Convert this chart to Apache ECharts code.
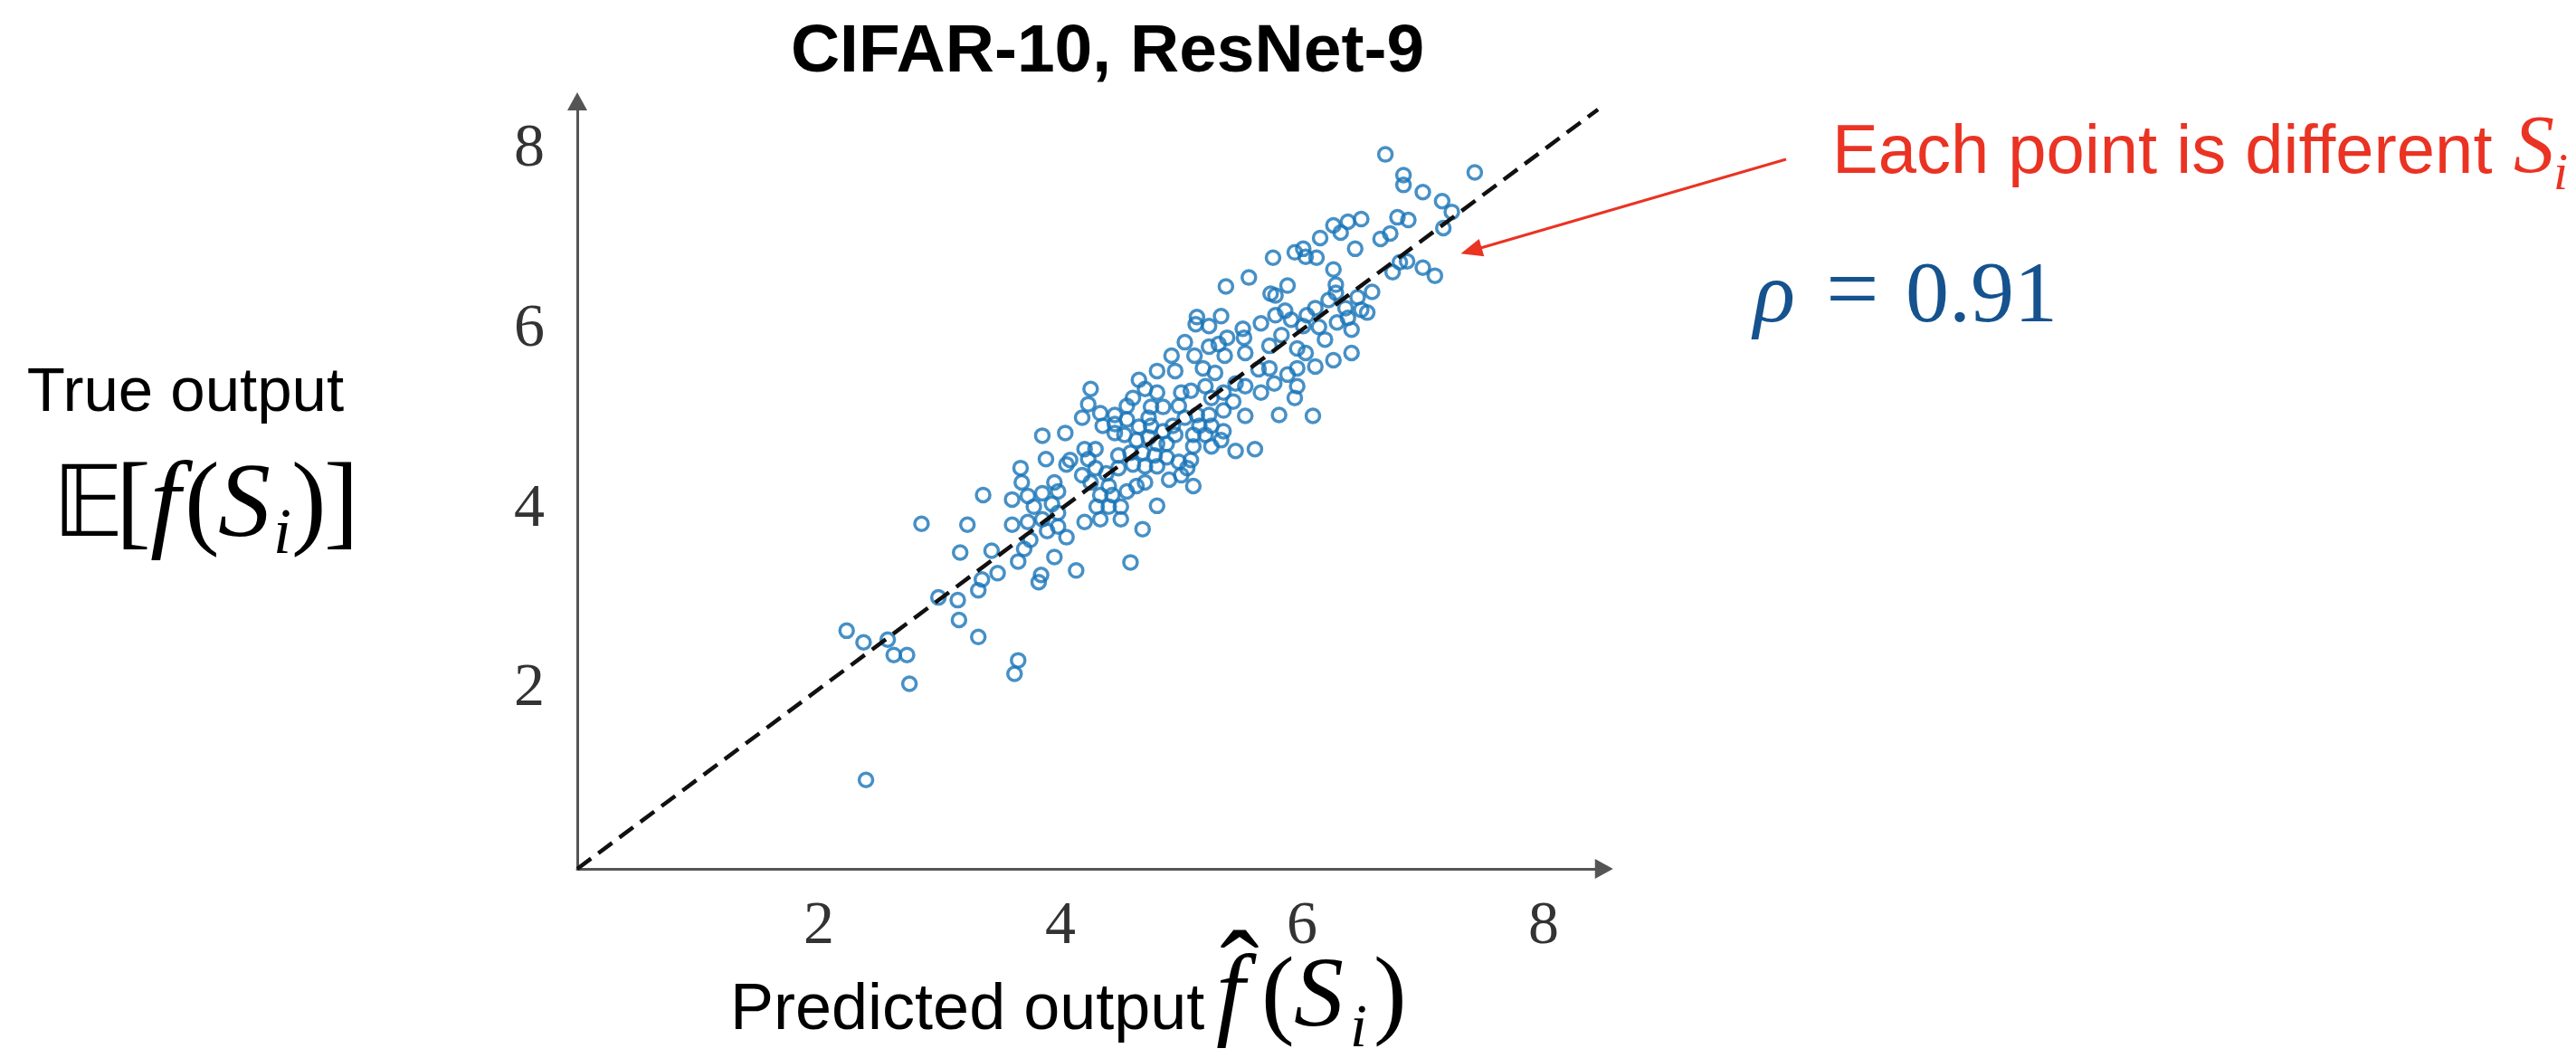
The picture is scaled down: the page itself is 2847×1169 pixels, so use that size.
<!DOCTYPE html>
<html><head><meta charset="utf-8">
<script src="https://cdn.jsdelivr.net/npm/echarts@6/dist/echarts.min.js"></script>
<style>html,body{margin:0;padding:0;background:#fff}#c{width:2847px;height:1169px}</style>
</head><body><div id="c"></div>
<script>
// Predicted output f^(S_i)
const predicted = [
4.25,4.65,4.80,4.95,5.18,5.28,4.70,4.80,4.60,4.55,4.23,4.33,4.18,4.35,4.45,4.45,4.55,4.75,4.85,4.73,
4.98,5.08,5.00,5.20,5.25,5.35,5.45,5.53,5.43,5.35,5.23,5.13,5.03,4.93,4.95,4.85,4.75,4.65,4.53,4.45,
4.63,4.73,4.80,4.88,5.10,5.20,5.25,5.35,5.33,5.25,5.10,5.15,5.45,5.53,3.85,4.04,3.88,4.05,4.08,4.20,
4.29,4.23,4.29,4.18,4.25,4.38,4.48,4.58,4.68,4.78,4.88,4.48,4.60,4.70,4.80,4.98,5.08,5.05,5.00,4.90,
5.10,4.70,4.63,4.55,4.40,4.43,4.33,4.30,4.40,4.50,4.50,4.33,4.20,4.80,4.68,4.58,4.13,3.95,3.84,3.82,
3.65,3.48,3.67,3.68,3.60,3.73,3.85,3.95,3.98,3.93,3.98,3.78,3.60,3.73,3.89,3.98,4.05,3.75,3.70,3.85,
2.85,3.23,3.36,3.17,3.43,3.35,3.32,2.99,3.15,3.16,3.32,2.23,2.37,2.57,2.62,2.73,2.75,3.65,3.62,2.39,
6.69,6.84,6.84,7.00,7.16,7.24,7.17,6.79,6.88,6.73,6.65,6.49,6.38,6.26,6.32,6.15,6.44,6.01,5.94,6.03,
6.12,5.76,6.81,6.87,6.75,7.00,7.10,6.26,5.56,5.37,5.88,5.74,5.78,6.28,6.28,6.58,6.22,6.46,6.49,6.54,
6.36,6.11,6.04,5.86,5.91,5.78,5.66,5.33,5.13,5.12,5.23,6.14,6.29,6.38,6.41,6.19,6.01,5.51,5.52,5.38,
5.03,5.23,5.31,5.36,5.53,5.73,5.83,5.96,6.03,6.41,6.26,6.11,5.96,5.88,5.96,5.94,5.81,6.09,5.73,5.64,
5.77,5.66,5.61,4.92,5.11,7.43
];
// True output E[f(S_i)]
const trueOut = [
5.34,5.44,5.54,5.54,5.57,5.52,5.34,5.30,5.24,5.15,5.17,5.07,5.02,4.93,5.05,4.95,5.00,5.14,5.14,5.02,
5.15,5.32,5.30,5.37,5.24,5.30,5.40,5.37,5.20,5.10,5.05,5.05,5.02,4.93,4.83,4.87,4.93,4.92,4.83,4.85,
4.77,4.80,4.73,4.73,4.83,4.83,4.93,4.87,4.77,4.70,4.70,4.93,4.65,5.04,4.82,4.85,4.56,4.50,4.55,4.67,
4.67,4.56,4.46,4.38,4.30,4.40,4.60,4.63,4.63,4.60,4.58,4.46,4.50,4.48,4.48,4.53,4.55,4.46,4.38,4.33,
4.26,4.30,4.26,4.20,4.26,4.16,4.16,4.03,4.03,4.03,3.89,3.89,3.86,4.04,3.78,3.41,3.32,3.47,3.27,3.19,
3.42,3.29,4.46,4.30,4.11,4.15,4.18,4.30,4.20,4.06,3.96,4.03,3.83,3.86,3.76,3.81,3.69,3.66,3.56,3.89,
3.84,3.83,4.16,3.52,3.54,3.22,3.10,3.02,2.99,2.77,2.58,2.65,2.52,2.55,2.38,2.38,2.06,2.32,2.17,0.99,
7.95,7.72,7.61,7.53,7.43,7.31,7.13,7.25,7.22,7.07,7.01,7.23,7.20,7.16,7.08,7.02,6.90,6.90,6.86,6.81,
6.80,6.80,6.75,6.76,6.64,6.69,6.60,6.67,6.58,6.48,6.49,6.40,6.38,6.50,6.41,6.42,6.33,6.36,6.22,6.19,
6.24,6.24,6.16,6.21,6.11,6.16,6.07,6.15,6.14,6.06,6.04,6.03,6.08,6.13,6.00,5.89,6.04,6.01,5.91,5.91,
5.86,5.81,5.84,5.71,5.74,5.82,5.94,5.79,5.74,5.74,5.66,5.59,5.57,5.50,5.37,5.24,5.05,5.04,5.57,5.56,
5.40,5.30,4.67,5.71,5.71,7.75
];
const xTickLabels = [2, 4, 6, 8];
const yTickLabels = [2, 4, 6, 8];
const diagonalEnds = [0, 8.45];

const chart = echarts.init(document.getElementById('c'), null, {renderer: 'canvas'});
const serif = '"Liberation Serif", "DejaVu Serif", serif';
const sans = '"Liberation Sans", Arial, sans-serif';
const blue = '#1874b8';
const red = '#ea3323';
const navy = '#15528e';

function txt(text, x, y, font, fill, align) {
  return {type: 'text', x: x, y: y, silent: true, style: {
    text: text, font: font, fill: fill || '#000',
    align: align || 'left', textAlign: align || 'left',
    verticalAlign: 'middle', textVerticalAlign: 'middle'}};
}

const option = {
  animation: false,
  backgroundColor: '#fff',
  grid: {left: 638, top: 112, width: 1134.75, height: 848, containLabel: false},
  xAxis: {
    type: 'value', min: 0, max: 8.5, interval: 2,
    axisLine: {show: true, onZero: false, lineStyle: {color: '#555', width: 3},
      symbol: ['none', 'triangle'], symbolSize: [22, 20]},
    axisTick: {show: false}, splitLine: {show: false},
    axisLabel: {margin: 30, fontFamily: serif, fontSize: 68, color: '#333',
      formatter: v => xTickLabels.includes(v) ? String(v) : ''}
  },
  yAxis: {
    type: 'value', min: 0, max: 8.54, interval: 2,
    axisLine: {show: true, onZero: false, lineStyle: {color: '#555', width: 3},
      symbol: ['none', 'triangle'], symbolSize: [22, 20]},
    axisTick: {show: false}, splitLine: {show: false},
    axisLabel: {margin: 36, fontFamily: serif, fontSize: 68, color: '#333',
      formatter: v => yTickLabels.includes(v) ? String(v) : ''}
  },
  series: [
    {
      type: 'scatter', z: 2, silent: true,
      data: predicted.map((x, i) => [x, trueOut[i]]),
      symbol: 'circle', symbolSize: 15,
      itemStyle: {color: 'rgba(255,255,255,0)', borderColor: blue, borderWidth: 3.5}
    },
    {
      type: 'line', z: 3, silent: true, showSymbol: false, symbol: 'none',
      data: diagonalEnds.map(v => [v, v]),
      lineStyle: {color: '#111', width: 4.5, type: [19, 10]},
      markLine: {
        silent: true, symbol: ['none', 'triangle'], symbolSize: [20, 24],
        label: {show: false},
        lineStyle: {color: red, width: 3, type: 'solid'},
        data: [[{x: 1974, y: 176}, {x: 1626, y: 277}]]
      }
    }
  ],
  graphic: [
    txt('CIFAR-10, ResNet-9', 1224, 58, 'bold 75px ' + sans, '#000', 'center'),
    txt('True output', 205, 435, '69px ' + sans, '#000', 'center'),
    txt('\uD835\uDD3C', 58, 564, '108px "DejaVu Sans", sans-serif'),
    txt('[', 128, 561, '116px ' + serif),
    txt('f', 166, 561, 'italic 120px ' + serif),
    txt('(', 204, 561, '116px ' + serif),
    txt('S', 241, 561, 'italic 116px ' + serif),
    txt('i', 302, 592, 'italic 72px ' + serif),
    txt(')', 322, 561, '116px ' + serif),
    txt(']', 358, 561, '116px ' + serif),
    txt('Predicted output', 807, 1117, '72px ' + sans),
    txt('f', 1344, 1104, 'italic 114px ' + serif),
    txt('\u02C6', 1370, 1084, '130px ' + serif, '#000', 'center'),
    txt('(', 1394, 1104, '110px ' + serif),
    txt('S', 1430, 1104, 'italic 110px ' + serif),
    txt('i', 1492, 1138, 'italic 68px ' + serif),
    txt(')', 1518, 1104, '110px ' + serif),
    txt('Each point is different', 2025, 170, '76px ' + sans, red),
    txt('S', 2778, 166, 'italic 90px ' + serif, red),
    txt('i', 2822, 194, 'italic 58px ' + serif, red),
    txt('\u03C1', 1938, 330, 'italic 96px ' + serif, navy),
    txt('=', 2018, 327, '104px ' + serif, navy),
    txt('0.91', 2106, 330, '96px ' + serif, navy)
  ]
};
chart.setOption(option);
</script></body></html>
